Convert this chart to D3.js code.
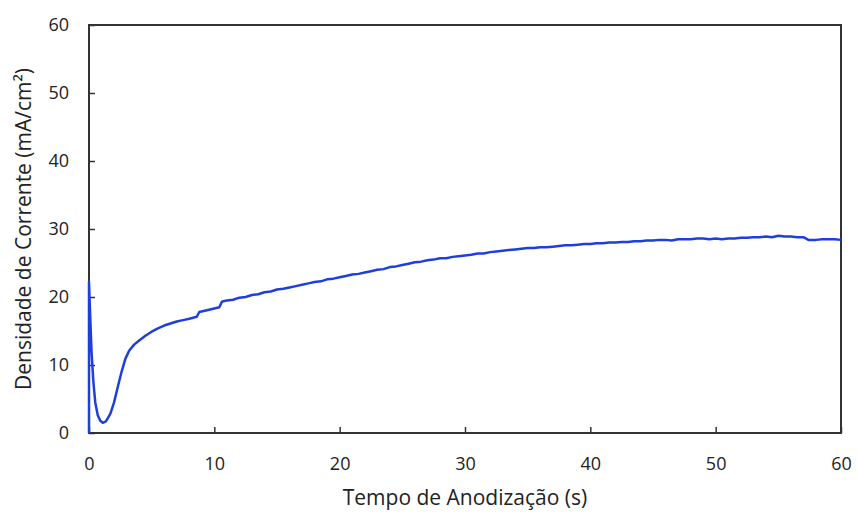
<!DOCTYPE html>
<html>
<head>
<meta charset="utf-8">
<script src="https://cdn.jsdelivr.net/npm/d3@7"></script>
<style>
  body { margin: 0; background: #fff; }
  text { font-family: "Open Sans", sans-serif; fill: #222; }
</style>
</head>
<body>
<svg width="858" height="513"></svg>
<script>
// anodizing time (s) and current density (mA/cm2)
const tempo = [0, 0, 0.08, 0.2, 0.35, 0.5, 0.7, 0.9, 1.1, 1.35, 1.7, 2.0, 2.3, 2.6, 2.9, 3.2, 3.6, 4.0, 4.5, 5.0,
  5.5, 6.0, 6.5, 7.0, 7.5, 8.0, 8.6, 8.8, 9.5, 10.4, 10.6, 11, 11.5, 12, 12.5, 13, 13.5, 14, 14.5, 15,
  15.5, 16, 16.5, 17, 17.5, 18, 18.5, 19, 19.5, 20, 20.5, 21, 21.5, 22, 22.5, 23, 23.5, 24, 24.5, 25,
  25.5, 26, 26.5, 27, 27.5, 28, 28.5, 29, 29.5, 30, 30.5, 31, 31.5, 32, 32.5, 33, 33.5, 34, 34.5, 35,
  35.5, 36, 36.5, 37, 37.5, 38, 38.5, 39, 39.5, 40, 40.5, 41, 41.5, 42, 42.5, 43, 43.5, 44, 44.5, 45,
  45.5, 46, 46.5, 47, 47.5, 48, 48.5, 49, 49.5, 50, 50.5, 51, 51.5, 52, 52.5, 53, 53.5, 54, 54.5, 55,
  55.5, 56, 56.5, 57, 57.4, 58, 58.5, 59, 59.5, 60];
const corrente = [0, 22.2, 18, 12, 7.5, 4.5, 2.6, 1.8, 1.5, 1.7, 2.8, 4.5, 6.8, 9.0, 10.9, 12.1, 13.0, 13.6, 14.3, 14.9,
  15.4, 15.8, 16.1, 16.4, 16.6, 16.8, 17.1, 17.8, 18.1, 18.5, 19.3, 19.5, 19.6, 19.9, 20.0, 20.3, 20.4, 20.7, 20.8, 21.1,
  21.2, 21.4, 21.6, 21.8, 22.0, 22.2, 22.3, 22.6, 22.7, 22.9, 23.1, 23.3, 23.4, 23.6, 23.8, 24.0, 24.1, 24.4, 24.5, 24.7,
  24.9, 25.1, 25.2, 25.4, 25.5, 25.7, 25.7, 25.9, 26.0, 26.1, 26.2, 26.4, 26.4, 26.6, 26.7, 26.8, 26.9, 27.0, 27.1, 27.2,
  27.2, 27.3, 27.3, 27.4, 27.5, 27.6, 27.6, 27.7, 27.8, 27.8, 27.9, 27.9, 28.0, 28.0, 28.1, 28.1, 28.2, 28.2, 28.3, 28.3,
  28.4, 28.4, 28.3, 28.5, 28.5, 28.5, 28.6, 28.6, 28.5, 28.6, 28.5, 28.6, 28.6, 28.7, 28.7, 28.8, 28.8, 28.9, 28.8, 29.0,
  28.9, 28.9, 28.8, 28.8, 28.4, 28.4, 28.5, 28.5, 28.5, 28.4];
const xTicks = [0, 10, 20, 30, 40, 50, 60];
const yTicks = [0, 10, 20, 30, 40, 50, 60];

const svg = d3.select('svg');
const margin = { top: 25, right: 17, bottom: 80, left: 89 };
const width = +svg.attr('width');
const height = +svg.attr('height');

let x = d3.scaleLinear().domain([0, 60]).range([margin.left, width - margin.right]);
let y = d3.scaleLinear().domain([0, 60]).range([height - margin.bottom, margin.top]);

// ticks point inward, like the Excel original
const gx = svg.append('g')
  .attr('transform', `translate(0,${height - margin.bottom})`)
  .call(d3.axisBottom(x).tickValues(xTicks).tickSize(-6).tickPadding(24).tickSizeOuter(0));
const gy = svg.append('g')
  .attr('transform', `translate(${margin.left},0)`)
  .call(d3.axisLeft(y).tickValues(yTicks).tickSize(-6).tickPadding(20).tickSizeOuter(0));

[gx, gy].forEach(g => {
  g.select('.domain').remove();
  g.selectAll('.tick line').attr('stroke', '#333').attr('stroke-width', 1.5);
  g.selectAll('.tick text').style('font-size', '18px').attr('fill', '#222');
});

svg.append('rect')
  .attr('x', x(0))
  .attr('y', y(60))
  .attr('width', x(60) - x(0))
  .attr('height', y(0) - y(60))
  .attr('fill', 'none')
  .attr('stroke', '#333')
  .attr('stroke-width', 2);

const data = tempo.map((t, i) => ({ t: t, c: corrente[i] }));
const line = d3.line()
  .x(d => x(d.t))
  .y(d => y(d.c));

svg.append('path')
  .datum(data)
  .attr('fill', 'none')
  .attr('stroke', '#1f3fdc')
  .attr('stroke-width', 2.5)
  .attr('stroke-linejoin', 'round')
  .attr('d', line);

svg.append('text')
  .attr('x', (x(0) + x(60)) / 2)
  .attr('y', 505)
  .attr('text-anchor', 'middle')
  .style('font-size', '21px')
  .text('Tempo de Anodização (s)');

svg.append('text')
  .attr('transform', `translate(31,${(y(0) + y(60)) / 2}) rotate(-90)`)
  .attr('text-anchor', 'middle')
  .style('font-size', '21px')
  .text('Densidade de Corrente (mA/cm²)');
</script>
</body>
</html>
